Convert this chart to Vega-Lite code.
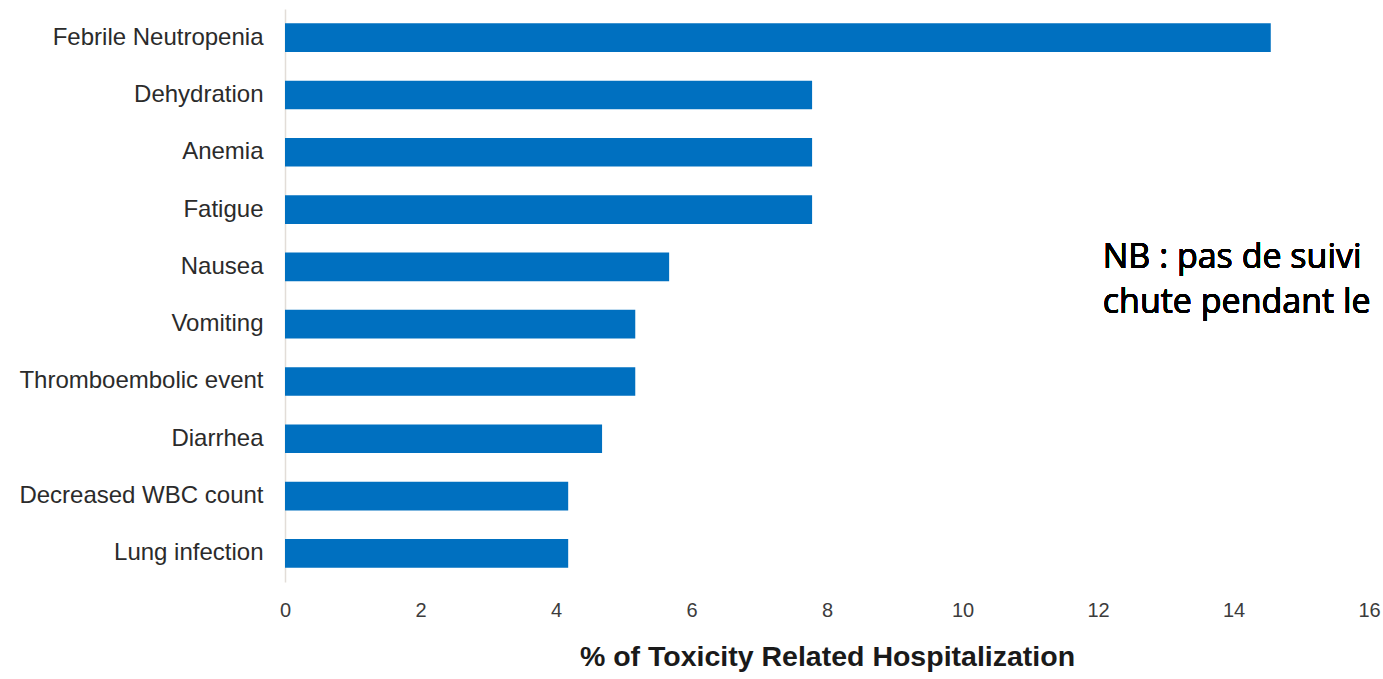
{
  "$schema": "https://vega.github.io/schema/vega-lite/v6.json",
  "autosize": {"type": "none"},
  "padding": {"left": 285, "top": 9, "right": 14, "bottom": 97},
  "width": 1084,
  "height": 573,
  "background": "white",
  "config": {
    "view": {"stroke": null},
    "font": "Liberation Sans"
  },
  "data": {
    "values": [
      {"event": "Febrile Neutropenia", "pct": 14.55},
      {"event": "Dehydration", "pct": 7.78},
      {"event": "Anemia", "pct": 7.78},
      {"event": "Fatigue", "pct": 7.78},
      {"event": "Nausea", "pct": 5.67},
      {"event": "Vomiting", "pct": 5.17},
      {"event": "Thromboembolic event", "pct": 5.17},
      {"event": "Diarrhea", "pct": 4.68},
      {"event": "Decreased WBC count", "pct": 4.18},
      {"event": "Lung infection", "pct": 4.18}
    ]
  },
  "layer": [
    {
      "mark": {"type": "bar", "color": "#0070c0"},
      "encoding": {
        "y": {
          "field": "event",
          "type": "nominal",
          "sort": null,
          "scale": {"paddingInner": 0.5, "paddingOuter": 0.25},
          "axis": {
            "title": null,
            "domain": true,
            "domainColor": "#e2ddd8",
            "domainWidth": 1.5,
            "ticks": false,
            "tickSize": 0,
            "labelPadding": 22,
            "labelFontSize": 24,
            "labelLimit": 0,
            "labelColor": "#2b2b2b",
            "labelFont": "Liberation Sans"
          }
        },
        "x": {
          "field": "pct",
          "type": "quantitative",
          "scale": {"domain": [0, 16], "nice": false},
          "axis": {
            "title": "% of Toxicity Related Hospitalization",
            "titleFont": "Liberation Sans",
            "titleFontSize": 28.5,
            "titleFontWeight": "bold",
            "titleColor": "#1a1a1a",
            "titlePadding": 22,
            "values": [0, 2, 4, 6, 8, 10, 12, 14, 16],
            "format": "d",
            "domain": false,
            "ticks": false,
            "tickSize": 0,
            "grid": false,
            "labelPadding": 18,
            "labelFontSize": 20,
            "labelColor": "#3c3c3c",
            "labelFont": "Liberation Sans",
            "labelFlush": false
          }
        }
      }
    },
    {
      "mark": {
        "type": "text",
        "align": "left",
        "baseline": "alphabetic",
        "font": "Open Sans",
        "fontSize": 34,
        "lineHeight": 45,
        "dy": 1,
        "color": "#000000",
        "text": ["NB : pas de suivi", "chute pendant le"]
      },
      "encoding": {
        "x": {"datum": 12.07},
        "y": {"datum": "Nausea"}
      }
    }
  ]
}
